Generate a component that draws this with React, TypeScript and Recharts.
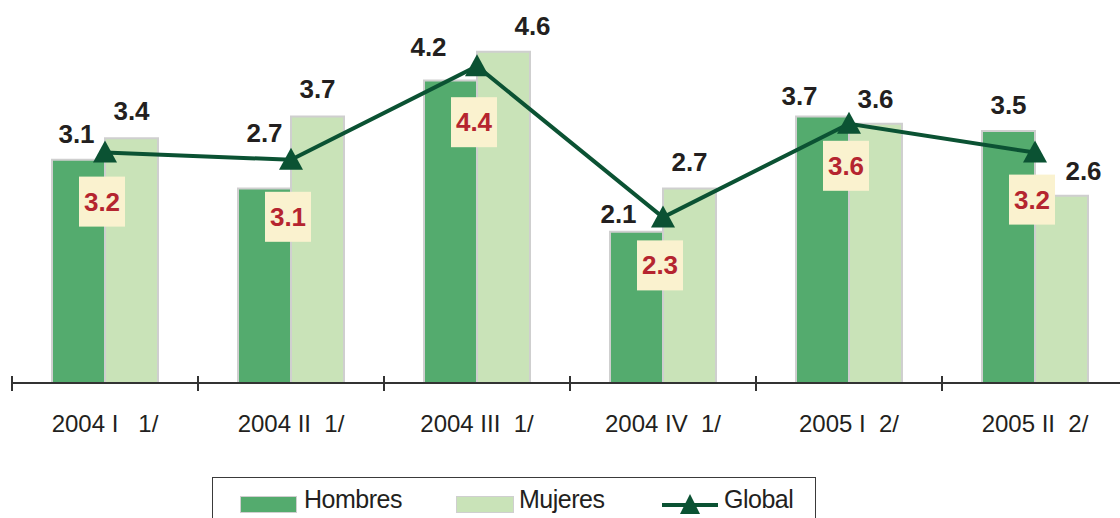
import { ComposedChart, Bar, Line, XAxis, YAxis, LabelList } from 'recharts';

const categories = ['2004 I   1/', '2004 II  1/', '2004 III  1/', '2004 IV  1/', '2005 I  2/', '2005 II  2/'];
const hombres = [3.1, 2.7, 4.2, 2.1, 3.7, 3.5];
const mujeres = [3.4, 3.7, 4.6, 2.7, 3.6, 2.6];
const global = [3.2, 3.1, 4.4, 2.3, 3.6, 3.2];

// hand-placed label nudges, as in the original layout
const hombresShift = [[-2, -17], [0, -47], [-22, -25], [-18, -9], [-23, -12], [0, -17]];
const mujeresShift = [[0, -18], [0, -19], [29, -17], [0, -18], [0, -16], [22, -16]];
const globalBoxTop = [24, 32, 31, 23, 17, 22];

const data = categories.map((name, i) => ({
    name,
    hombres: hombres[i],
    mujeres: mujeres[i],
    global: global[i],
}));

const FONT = '"Liberation Sans", Arial, Helvetica, sans-serif';
const DARK = '#0b5233';
const BAND = 186;

const valueLabel = (shift: number[][]) => (props: any) => {
    const { x, y, width, value, index } = props;
    const [dx, dy] = shift[index] || [0, -17];
    return (
        <text x={x + width / 2 + dx} y={y + dy} textAnchor="middle" fontSize={26} fontWeight={700} fill="#231f20" fontFamily={FONT}>
            {Number(value).toFixed(1)}
        </text>
    );
};

const GlobalBox = (props: any) => {
    const { x, y, value, index } = props;
    const top = y + globalBoxTop[index];
    const cx = x - 3;
    return (
        <g>
            <rect x={cx - 23} y={top} width={46} height={50} fill="#faf2cf" />
            <text x={cx} y={top + 34} textAnchor="middle" fontSize={26} fontWeight={700} fill="#b5252f" fontFamily={FONT}>
                {Number(value).toFixed(1)}
            </text>
        </g>
    );
};

const Triangle = (props: any) => {
    const { cx, cy } = props;
    if (cx == null || cy == null) return null;
    return <path d={`M${cx},${cy - 12} L${cx + 12},${cy + 10} L${cx - 12},${cy + 10} Z`} fill={DARK} />;
};

const CategoryTick = (props: any) => {
    const { x, y, payload, index } = props;
    const half = BAND / 2;
    return (
        <g>
            <line x1={x - half} x2={x - half} y1={y - 7} y2={y + 8} stroke="#333" strokeWidth={2} />
            {index === categories.length - 1 && (
                <line x1={x + half} x2={x + half} y1={y - 7} y2={y + 8} stroke="#333" strokeWidth={2} />
            )}
            <text x={x} y={y + 49} textAnchor="middle" fontSize={24} fill="#231f20" fontFamily={FONT} style={{ whiteSpace: 'pre' }}>
                {payload.value}
            </text>
        </g>
    );
};

const legendText = { position: 'absolute' as const, top: 484, fontSize: 25, color: '#231f20', fontFamily: FONT, letterSpacing: '-0.5px', lineHeight: '30px' };

export default function App() {
    return (
        <div style={{ position: 'absolute', left: 0, top: 0, width: 1120, height: 518, overflow: 'hidden', background: '#fff' }}>
            <ComposedChart width={1130} height={518} data={data} margin={{ top: 23, right: 2, left: 12, bottom: 75 }} barGap={0}>
                <XAxis
                    dataKey="name"
                    height={60}
                    interval={0}
                    tickSize={0}
                    tickMargin={0}
                    tickLine={false}
                    axisLine={{ stroke: '#333', strokeWidth: 2 }}
                    tick={<CategoryTick />}
                />
                <YAxis hide domain={[0, 5]} />
                <Bar dataKey="hombres" name="Hombres" barSize={53} fill="#54ab6e" stroke="#cfcfcf" strokeWidth={2} isAnimationActive={false}>
                    <LabelList dataKey="hombres" content={valueLabel(hombresShift)} />
                </Bar>
                <Bar dataKey="mujeres" name="Mujeres" barSize={53} fill="#c9e3b8" stroke="#cfcfcf" strokeWidth={2} isAnimationActive={false}>
                    <LabelList dataKey="mujeres" content={valueLabel(mujeresShift)} />
                </Bar>
                <Line
                    dataKey="global"
                    name="Global"
                    stroke={DARK}
                    strokeWidth={4}
                    dot={<Triangle />}
                    activeDot={false}
                    isAnimationActive={false}
                >
                    <LabelList dataKey="global" content={<GlobalBox />} />
                </Line>
            </ComposedChart>

            <div style={{ position: 'absolute', left: 212, top: 477, width: 602, height: 60, border: '1.5px solid #3a3a3a' }} />
            <div style={{ position: 'absolute', left: 240, top: 496, width: 55, height: 15, background: '#54ab6e', border: '1px solid #cfcfcf' }} />
            <div style={{ ...legendText, left: 304 }}>Hombres</div>
            <div style={{ position: 'absolute', left: 456, top: 496, width: 56, height: 15, background: '#c9e3b8', border: '1px solid #cfcfcf' }} />
            <div style={{ ...legendText, left: 519 }}>Mujeres</div>
            <svg style={{ position: 'absolute', left: 660, top: 490, width: 60, height: 28 }}>
                <line x1={2} x2={58} y1={15} y2={15} stroke={DARK} strokeWidth={4} />
                <path d="M30,4 L40,24 L20,24 Z" fill={DARK} />
            </svg>
            <div style={{ ...legendText, left: 724 }}>Global</div>
        </div>
    );
}
